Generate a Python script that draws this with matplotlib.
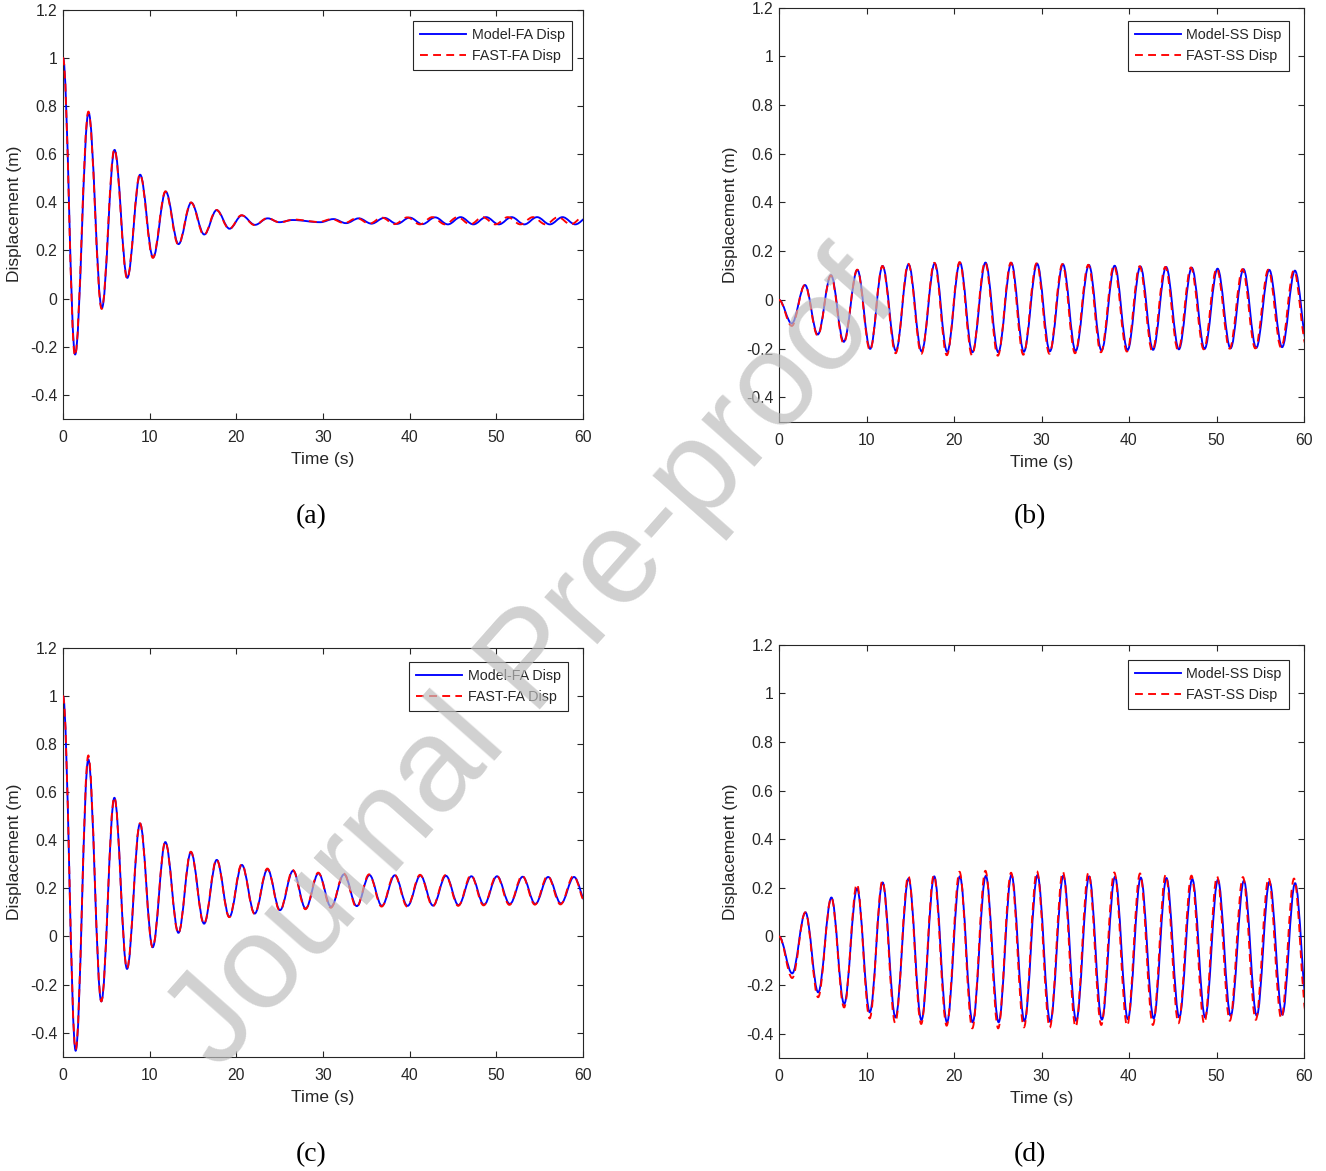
import numpy as np
import matplotlib
matplotlib.use("Agg")
import matplotlib.pyplot as plt
from matplotlib.path import Path
from matplotlib.patches import PathPatch
from matplotlib.lines import Line2D

plt.rcParams['font.family'] = ['Liberation Sans', 'DejaVu Sans']

# ---------------- data: extrema (time, value) ----------------
# Panel (a) FA
T_A_MODEL = [0, 1.4, 2.95, 4.48, 5.95, 7.42, 8.9, 10.4, 11.85, 13.33,
             14.8, 16.3, 17.73, 19.22, 20.64, 22.15, 23.62, 24.95, 26.5, 29.7,
             31.2, 32.66, 34.13, 35.6, 37.07, 38.54, 40.0, 41.47, 42.94, 44.41,
             45.88, 47.35, 48.82, 50.29, 51.76, 53.23, 54.7, 56.17, 57.64, 59.11, 60.58]
V_A_MODEL = [1.0, -0.232, 0.772, -0.04, 0.617, 0.086, 0.514, 0.171, 0.444, 0.226,
             0.398, 0.266, 0.367, 0.29, 0.345, 0.306, 0.333, 0.317, 0.326, 0.317,
             0.330, 0.313, 0.333, 0.311, 0.335, 0.310, 0.336, 0.309, 0.337, 0.308,
             0.338, 0.308, 0.338, 0.308, 0.338, 0.308, 0.338, 0.308, 0.338, 0.308, 0.338]
T_A_FAST = [0, 1.38, 2.93, 4.46, 5.93, 7.4, 8.88, 10.37, 11.82, 13.3,
            14.77, 16.26, 17.7, 19.18, 20.6, 22.1, 23.58, 25.0, 26.6, 29.55,
            31.0, 32.45, 33.9, 35.35, 36.8, 38.25, 39.72, 41.18, 42.62, 44.08,
            45.52, 46.98, 48.42, 49.88, 51.32, 52.78, 54.22, 55.68, 57.12, 58.58, 60.02]
V_A_FAST = [1.0, -0.237, 0.776, -0.043, 0.620, 0.083, 0.516, 0.169, 0.445, 0.224,
            0.399, 0.264, 0.368, 0.289, 0.346, 0.305, 0.334, 0.316, 0.328, 0.318,
            0.330, 0.313, 0.334, 0.311, 0.336, 0.309, 0.337, 0.308, 0.338, 0.308,
            0.338, 0.308, 0.338, 0.308, 0.338, 0.308, 0.338, 0.308, 0.338, 0.308, 0.338]

# Panel (b) SS
T_B_MODEL = [0, 1.46, 2.97, 4.43, 5.94, 7.4, 8.96, 10.42, 11.84, 13.36,
             14.81, 16.3, 17.8, 19.22, 20.68, 22.1, 23.6, 25.06, 26.55, 27.98,
             29.5, 30.96, 32.45, 33.9, 35.42, 36.86, 38.36, 39.84, 41.3, 42.75,
             44.24, 45.7, 47.17, 48.64, 50.12, 51.6, 53.08, 54.54, 56.03, 57.5, 58.96, 60.43]
V_B_MODEL = [0, -0.097, 0.061, -0.142, 0.101, -0.172, 0.123, -0.201, 0.139, -0.209,
             0.146, -0.211, 0.150, -0.213, 0.153, -0.215, 0.153, -0.215, 0.152, -0.213,
             0.148, -0.211, 0.146, -0.210, 0.143, -0.208, 0.140, -0.206, 0.137, -0.205,
             0.135, -0.203, 0.132, -0.201, 0.128, -0.199, 0.126, -0.197, 0.123, -0.194, 0.120, -0.192]
T_B_FAST = [0, 1.46, 2.96, 4.42, 5.92, 7.38, 8.94, 10.4, 11.82, 13.33,
            14.78, 16.27, 17.76, 19.18, 20.64, 22.06, 23.55, 25.01, 26.5, 27.92,
            29.44, 30.9, 32.39, 33.83, 35.35, 36.79, 38.28, 39.76, 41.22, 42.66,
            44.15, 45.61, 47.08, 48.54, 50.02, 51.5, 52.97, 54.43, 55.92, 57.38, 58.84, 60.31]
V_B_FAST = [0, -0.107, 0.061, -0.147, 0.100, -0.178, 0.124, -0.207, 0.139, -0.219,
            0.148, -0.221, 0.152, -0.227, 0.155, -0.228, 0.155, -0.229, 0.153, -0.225,
            0.150, -0.221, 0.147, -0.219, 0.144, -0.215, 0.141, -0.212, 0.138, -0.210,
            0.135, -0.207, 0.133, -0.203, 0.129, -0.200, 0.126, -0.199, 0.124, -0.196, 0.121, -0.194]

# Panel (c) FA
T_C_MODEL = [0, 1.46, 2.92, 4.42, 5.93, 7.39, 8.89, 10.35, 11.81, 13.32,
             14.76, 16.28, 17.74, 19.2, 20.64, 22.12, 23.6, 25.04, 26.55, 28.0,
             29.48, 30.93, 32.43, 33.9, 35.36, 36.8, 38.28, 39.76, 41.24, 42.7,
             44.18, 45.64, 47.12, 48.58, 50.08, 51.56, 53.04, 54.5, 55.98, 57.46, 58.96, 60.43]
V_C_MODEL = [1.0, -0.475, 0.736, -0.27, 0.576, -0.135, 0.469, -0.045, 0.392, 0.015,
             0.35, 0.053, 0.318, 0.081, 0.297, 0.095, 0.279, 0.109, 0.273, 0.116,
             0.262, 0.123, 0.258, 0.126, 0.255, 0.127, 0.254, 0.127, 0.253, 0.128,
             0.252, 0.13, 0.25, 0.132, 0.25, 0.135, 0.248, 0.135, 0.247, 0.137, 0.247, 0.138]
T_C_FAST = [0, 1.46, 2.92, 4.42, 5.92, 7.38, 8.88, 10.34, 11.8, 13.31,
            14.75, 16.26, 17.72, 19.18, 20.62, 22.1, 23.58, 25.02, 26.52, 27.97,
            29.45, 30.9, 32.4, 33.87, 35.32, 36.76, 38.24, 39.72, 41.2, 42.66,
            44.14, 45.6, 47.07, 48.53, 50.03, 51.51, 52.99, 54.45, 55.92, 57.4, 58.9, 60.37]
V_C_FAST = [1.0, -0.47, 0.752, -0.27, 0.578, -0.133, 0.47, -0.045, 0.393, 0.013,
            0.352, 0.052, 0.32, 0.08, 0.3, 0.094, 0.282, 0.107, 0.276, 0.113,
            0.265, 0.119, 0.261, 0.122, 0.258, 0.124, 0.257, 0.124, 0.256, 0.125,
            0.255, 0.127, 0.254, 0.129, 0.253, 0.131, 0.252, 0.132, 0.251, 0.133, 0.251, 0.134]

# Panel (d) SS
T_D_MODEL = [0, 1.51, 3.02, 4.48, 5.99, 7.45, 8.92, 10.38, 11.84, 13.31,
             14.81, 16.28, 17.74, 19.2, 20.67, 22.13, 23.64, 25.1, 26.57, 28.05,
             29.54, 31.0, 32.5, 33.97, 35.44, 36.9, 38.4, 39.87, 41.34, 42.82,
             44.28, 45.74, 47.23, 48.7, 50.16, 51.62, 53.13, 54.6, 56.06, 57.52, 58.98, 60.45]
V_D_MODEL = [0, -0.152, 0.099, -0.23, 0.16, -0.278, 0.197, -0.312, 0.222, -0.333,
             0.238, -0.344, 0.247, -0.353, 0.247, -0.353, 0.249, -0.353, 0.253, -0.348,
             0.252, -0.351, 0.25, -0.347, 0.247, -0.342, 0.245, -0.34, 0.242, -0.337,
             0.24, -0.333, 0.236, -0.333, 0.233, -0.326, 0.229, -0.326, 0.225, -0.322, 0.219, -0.32]
T_D_FAST = [0, 1.51, 3.01, 4.47, 5.98, 7.44, 8.9, 10.36, 11.82, 13.28,
            14.78, 16.25, 17.7, 19.16, 20.63, 22.09, 23.59, 25.05, 26.52, 27.99,
            29.48, 30.94, 32.44, 33.9, 35.37, 36.83, 38.32, 39.79, 41.26, 42.73,
            44.19, 45.65, 47.14, 48.6, 50.06, 51.52, 53.02, 54.49, 55.95, 57.4, 58.86, 60.33]
V_D_FAST = [0, -0.171, 0.099, -0.25, 0.16, -0.292, 0.215, -0.337, 0.229, -0.356,
            0.249, -0.36, 0.252, -0.367, 0.266, -0.378, 0.27, -0.378, 0.262, -0.374,
            0.268, -0.375, 0.266, -0.372, 0.263, -0.364, 0.263, -0.367, 0.259, -0.364,
            0.253, -0.357, 0.25, -0.358, 0.247, -0.347, 0.244, -0.343, 0.241, -0.337, 0.238, -0.335]

X_TICKS = [0, 10, 20, 30, 40, 50, 60]
Y_TICKS = [-0.4, -0.2, 0, 0.2, 0.4, 0.6, 0.8, 1.0, 1.2]
Y_TICK_LABELS = ['-0.4', '-0.2', '0', '0.2', '0.4', '0.6', '0.8', '1', '1.2']
PANEL_TAGS = ['(a)', '(b)', '(c)', '(d)']
LEGENDS = [['Model-FA Disp', 'FAST-FA Disp'], ['Model-SS Disp', 'FAST-SS Disp'],
           ['Model-FA Disp', 'FAST-FA Disp'], ['Model-SS Disp', 'FAST-SS Disp']]

SERIES = [((T_A_MODEL, V_A_MODEL), (T_A_FAST, V_A_FAST)),
          ((T_B_MODEL, V_B_MODEL), (T_B_FAST, V_B_FAST)),
          ((T_C_MODEL, V_C_MODEL), (T_C_FAST, V_C_FAST)),
          ((T_D_MODEL, V_D_MODEL), (T_D_FAST, V_D_FAST))]

# ---------------- layout ----------------
W, H = 1326, 1171
fig = plt.figure(figsize=(W / 100, H / 100), dpi=100)

# axes boxes in pixels: left, right, top, bottom
BOXES = [(63, 583, 9.5, 419), (779, 1304, 7.5, 421.7),
         (63, 583, 647.7, 1056.7), (779, 1304, 644.7, 1058)]
LEG_ANCHORS = [(0.979, 0.973), (0.971, 0.967), (0.971, 0.965), (0.971, 0.963)]
TAG_POS = [(311, 517), (1030, 517), (311, 1155), (1030, 1155)]

AX_COLOR = '#262626'
K = 1 - 2 / np.pi


def wave_path(t, v):
    """Smooth cubic Bezier path through consecutive extrema (horizontal tangents)."""
    verts = [(t[0], v[0])]
    codes = [Path.MOVETO]
    for i in range(len(t) - 1):
        h = K * (t[i + 1] - t[i])
        verts += [(t[i] + h, v[i]), (t[i + 1] - h, v[i + 1]), (t[i + 1], v[i + 1])]
        codes += [Path.CURVE4] * 3
    return Path(verts, codes)


DASH = (0, (4.2, 2.8))
LW = 1.35

for i, (l, r, t, b) in enumerate(BOXES):
    ax = fig.add_axes([l / W, 1 - b / H, (r - l) / W, (b - t) / H])
    (tm, vm), (tf, vf) = SERIES[i]
    ax.add_patch(PathPatch(wave_path(tm, vm), facecolor='none', edgecolor=(0, 0, 1),
                           lw=LW, zorder=2))
    ax.add_patch(PathPatch(wave_path(tf, vf), facecolor='none', edgecolor=(1, 0, 0),
                           lw=LW, linestyle=DASH, zorder=3))
    ax.set_xlim(0, 60)
    ax.set_ylim(-0.5, 1.2)
    ax.set_xticks(X_TICKS)
    ax.set_xticklabels([str(x) for x in X_TICKS])
    ax.set_yticks(Y_TICKS)
    ax.set_yticklabels(Y_TICK_LABELS)
    ax.tick_params(direction='in', length=4.5, width=0.8, colors=AX_COLOR,
                   labelsize=11.3, top=True, right=True)
    ax.tick_params(axis='x', pad=8.2)
    ax.tick_params(axis='y', pad=4.2)
    for s in ax.spines.values():
        s.set_color(AX_COLOR)
        s.set_linewidth(0.8)
    ax.set_xlabel('Time (s)', fontsize=12.5, color=AX_COLOR, labelpad=5)
    ax.set_ylabel('Displacement (m)', fontsize=12.5, color=AX_COLOR, labelpad=5.5)
    handles = [Line2D([], [], color=(0, 0, 1), lw=LW),
               Line2D([], [], color=(1, 0, 0), lw=LW, linestyle=DASH)]
    leg = ax.legend(handles, LEGENDS[i], loc='upper right',
                    bbox_to_anchor=LEG_ANCHORS[i], borderaxespad=0,
                    fontsize=10.3, handlelength=3.2, handletextpad=0.4,
                    labelspacing=0.5, borderpad=0.5, fancybox=False,
                    framealpha=1, edgecolor=AX_COLOR)
    leg.get_frame().set_linewidth(0.8)
    for txt in leg.get_texts():
        txt.set_color(AX_COLOR)
    fig.text(TAG_POS[i][0] / W, 1 - TAG_POS[i][1] / H, PANEL_TAGS[i],
             ha='center', va='center', fontsize=20, family='Liberation Serif')

# watermark
fig.text(0.403, 0.433, 'Journal Pre-proof', rotation=48.5, rotation_mode='anchor',
         ha='center', va='center', fontsize=96, color='#bdbdbd', alpha=0.7,
         family='Liberation Sans', zorder=10)

fig.savefig('out.png', dpi=100)
